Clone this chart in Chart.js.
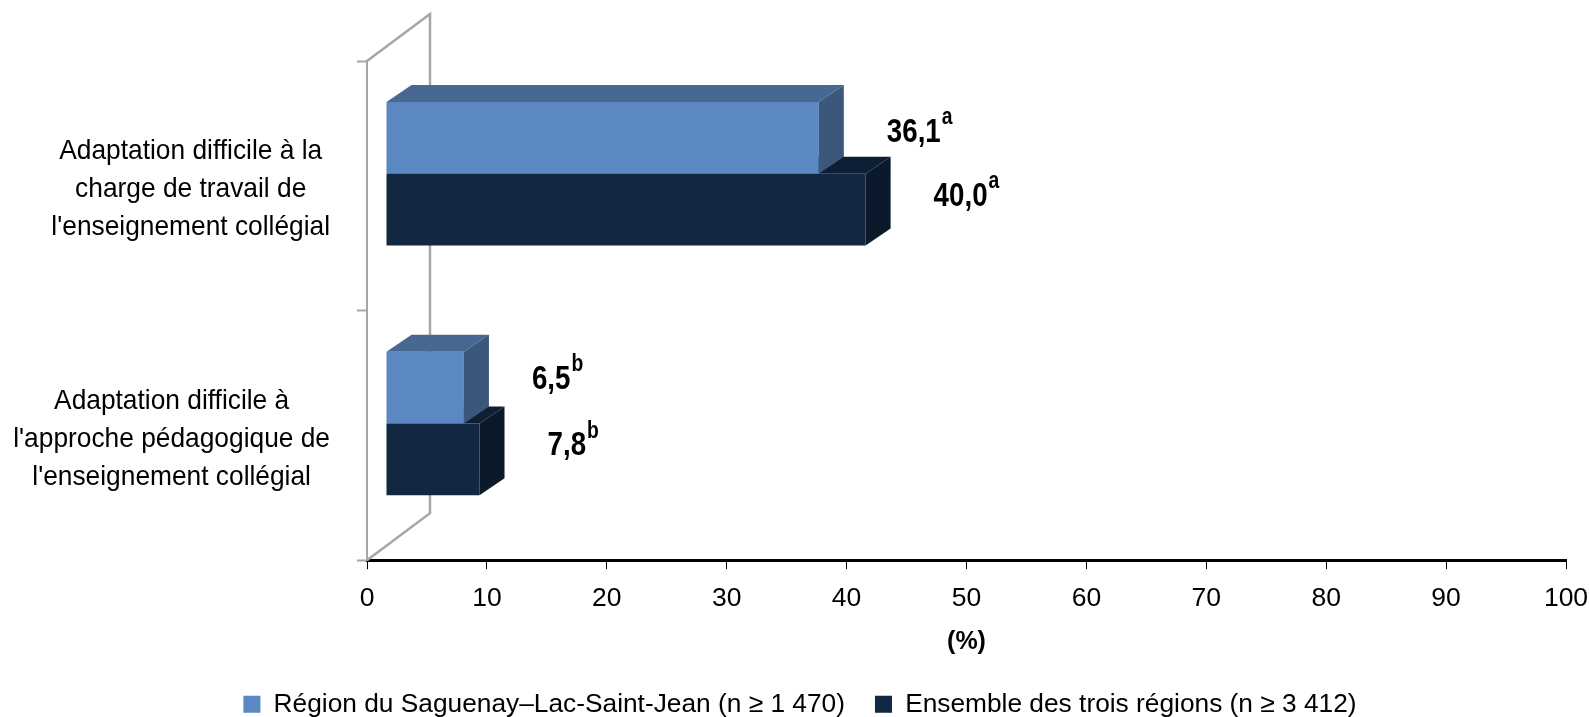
<!DOCTYPE html>
<html lang="fr">
<head>
<meta charset="utf-8">
<title>Adaptation difficile</title>
<script src="https://cdn.jsdelivr.net/npm/chart.js@4/dist/chart.umd.min.js"></script>
<style>
  html, body { margin: 0; padding: 0; background: #fff; }
  canvas { display: block; }
</style>
</head>
<body>
<canvas id="barChart" width="1589" height="717"></canvas>
<script>
const categories = [
  ["Adaptation difficile à la", "charge de travail de", "l'enseignement collégial"],
  ["Adaptation difficile à", "l'approche pédagogique de", "l'enseignement collégial"]
];
const seriesNames = ["Région du Saguenay–Lac-Saint-Jean (n ≥ 1 470)", "Ensemble des trois régions (n ≥ 3 412)"];
const saguenay = [36.1, 6.5];
const troisRegions = [40.0, 7.8];
const saguenayLetters = ["a", "b"];
const troisRegionsLetters = ["a", "b"];
const xTicks = [0, 10, 20, 30, 40, 50, 60, 70, 80, 90, 100];

const FONT = '"Liberation Sans", Arial, sans-serif';
const WALL = '#a6a6a6';

// faces of each series: front, top, side
const faces = [
  { front: '#5b87c2', top: '#486891', side: '#3b587c' },
  { front: '#122741', top: '#0e1f35', side: '#0b1a2a' }
];
const letters = [saguenayLetters, troisRegionsLetters];
const labelDy = [[-5, -8], [-13, -13]];

// the 3D look of the original: bars sit in front of the axis plane
const barShift = { x: 19, y: -12 };
const barDepth = { x: 25, y: 17 };
const wallDepth = { x: 63, y: 47 };

// the reference text is narrower than Liberation Sans
function squeezed(ctx, text, x, y, sx) {
  ctx.save();
  ctx.translate(x, y);
  ctx.scale(sx, 1);
  ctx.fillText(text, 0, 0);
  ctx.restore();
  return ctx.measureText(text).width * sx;
}

const fake3d = {
  id: 'fake3d',
  // legend is not centred in the original
  afterLayout(chart) {
    chart.legend.left += 17;
    chart.legend.right += 17;
  },
  beforeDatasetsDraw(chart) {
    const { ctx, chartArea: a } = chart;
    ctx.save();
    ctx.strokeStyle = WALL;
    ctx.lineWidth = 2.5;
    ctx.beginPath();
    ctx.moveTo(a.left, a.top);
    ctx.lineTo(a.left + wallDepth.x, a.top - wallDepth.y);
    ctx.lineTo(a.left + wallDepth.x, a.bottom - wallDepth.y);
    ctx.lineTo(a.left, a.bottom);
    ctx.stroke();
    ctx.restore();
  },
  beforeDatasetDraw(chart) {
    chart.ctx.save();
    chart.ctx.translate(barShift.x, barShift.y);
  },
  afterDatasetDraw(chart, args) {
    const { ctx } = chart;
    const c = faces[args.index];
    chart.getDatasetMeta(args.index).data.forEach(bar => {
      const top = bar.y - bar.height / 2;
      const bottom = bar.y + bar.height / 2;
      ctx.fillStyle = c.top;
      ctx.beginPath();
      ctx.moveTo(bar.base, top);
      ctx.lineTo(bar.base + barDepth.x, top - barDepth.y);
      ctx.lineTo(bar.x + barDepth.x, top - barDepth.y);
      ctx.lineTo(bar.x, top);
      ctx.fill();
      ctx.fillStyle = c.side;
      ctx.beginPath();
      ctx.moveTo(bar.x, top);
      ctx.lineTo(bar.x + barDepth.x, top - barDepth.y);
      ctx.lineTo(bar.x + barDepth.x, bottom - barDepth.y);
      ctx.lineTo(bar.x, bottom);
      ctx.fill();
    });
    ctx.restore();
  },
  afterDraw(chart) {
    const { ctx } = chart;
    ctx.save();
    ctx.fillStyle = '#000';
    ctx.textBaseline = 'middle';
    ctx.textAlign = 'left';

    // category labels: centred lines, block right edge on the axis side
    const yScale = chart.scales.y;
    const sx = 0.94;
    ctx.font = '28px ' + FONT;
    categories.forEach((lines, i) => {
      const w = Math.max(...lines.map(l => ctx.measureText(l).width)) * sx;
      const cx = 330 - w / 2;
      const cy = yScale.getPixelForTick(i) + 3.5;
      lines.forEach((l, j) => {
        squeezed(ctx, l, cx - ctx.measureText(l).width * sx / 2, cy + (j - 1) * 38, sx);
      });
    });

    // value labels with superscript letter
    chart.data.datasets.forEach((ds, d) => {
      chart.getDatasetMeta(d).data.forEach((bar, i) => {
        const x = bar.x + barShift.x + 68;
        const y = bar.y + barShift.y + labelDy[d][i];
        const txt = ds.data[i].toFixed(1).replace('.', ',');
        ctx.font = 'bold 33px ' + FONT;
        const w = squeezed(ctx, txt, x, y, 0.84);
        ctx.font = 'bold 23px ' + FONT;
        squeezed(ctx, letters[d][i], x + w + 1, y - 15, 0.84);
      });
    });
    ctx.restore();
  }
};

new Chart(document.getElementById('barChart'), {
  type: 'bar',
  data: {
    labels: categories,
    datasets: [
      { label: seriesNames[0], data: saguenay, backgroundColor: faces[0].front, borderWidth: 0 },
      { label: seriesNames[1], data: troisRegions, backgroundColor: faces[1].front, borderWidth: 0 }
    ]
  },
  options: {
    indexAxis: 'y',
    responsive: false,
    animation: false,
    categoryPercentage: 0.575,
    barPercentage: 1,
    layout: { padding: { top: 61, right: 23, left: 0, bottom: -10.5 } },
    plugins: {
      tooltip: { enabled: false },
      legend: {
        position: 'bottom',
        labels: {
          color: '#000',
          font: { family: FONT, size: 26.3 },
          boxWidth: 17,
          boxHeight: 17,
          padding: 30
        }
      }
    },
    scales: {
      x: {
        type: 'linear',
        min: xTicks[0],
        max: xTicks[xTicks.length - 1],
        afterBuildTicks(axis) { axis.ticks = xTicks.map(v => ({ value: v })); },
        afterFit(axis) {
          axis.height = 101;
          axis.paddingLeft = 0;
          axis.paddingRight = 0;
        },
        border: { color: '#000', width: 3 },
        grid: { drawOnChartArea: false, color: '#000', tickLength: 9, tickWidth: 1 },
        ticks: { color: '#000', font: { family: FONT, size: 26.5 }, padding: 14, maxRotation: 0, autoSkip: false },
        title: {
          display: true,
          text: '(%)',
          color: '#000',
          font: { family: FONT, size: 25, weight: 'bold' },
          padding: { top: 4, bottom: 4.5 }
        }
      },
      y: {
        afterFit(axis) { axis.width = 367; },
        border: { color: WALL, width: 2 },
        grid: { drawOnChartArea: false, color: WALL, tickLength: 10, tickWidth: 2 },
        ticks: { display: false }
      }
    }
  },
  plugins: [fake3d]
});
</script>
</body>
</html>
